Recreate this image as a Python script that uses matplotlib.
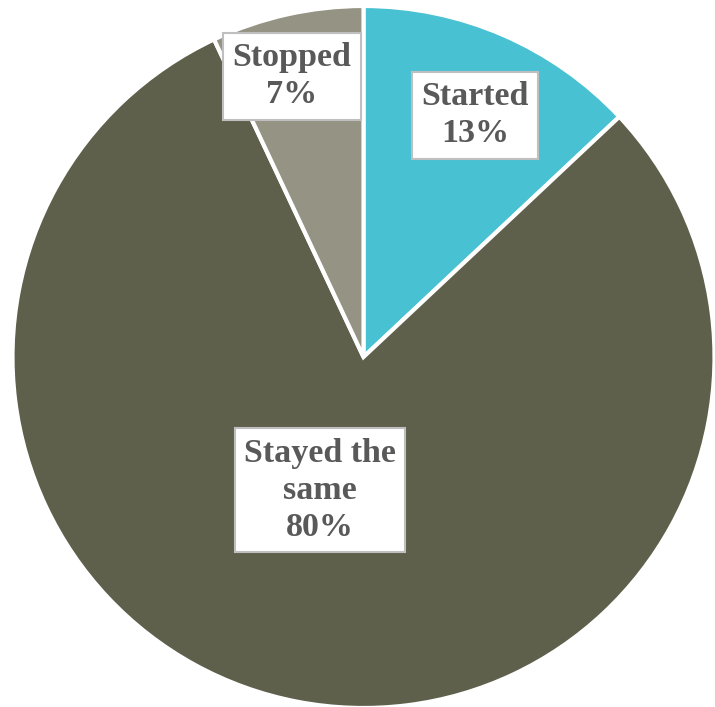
import matplotlib.pyplot as plt

categories = ["Started", "Stayed the same", "Stopped"]
shares = [13, 80, 7]
colors = ["#48C2D2", "#5E604B", "#959383"]
label_texts = ["Started\n13%", "Stayed the\nsame\n80%", "Stopped\n7%"]
label_pos = [(0.318, 0.689), (-0.124, -0.379), (-0.204, 0.800)]

W, H = 715, 707
fig = plt.figure(figsize=(W / 100, H / 100), dpi=100)
ax = fig.add_axes([0, 0, 1, 1])

cx, cy, r = 363.5, 357.0, 351.0
ax.pie(shares, colors=colors, startangle=90, counterclock=False,
       radius=1.0, center=(0, 0),
       wedgeprops=dict(edgecolor="white", linewidth=3))

ax.set_xlim(-cx / r, (W - cx) / r)
ax.set_ylim(-(H - cy) / r, cy / r)
ax.set_aspect("equal")
ax.axis("off")

for txt, (x, y) in zip(label_texts, label_pos):
    ax.text(x, y, txt, ha="center", va="center", fontsize=24.5,
            fontweight="bold", family="Liberation Serif", color="#595959",
            linespacing=1.25, multialignment="center",
            bbox=dict(boxstyle="square,pad=0.28", facecolor="white",
                      edgecolor="#BFBFBF", linewidth=1.5))

fig.savefig("out.png", dpi=100)
